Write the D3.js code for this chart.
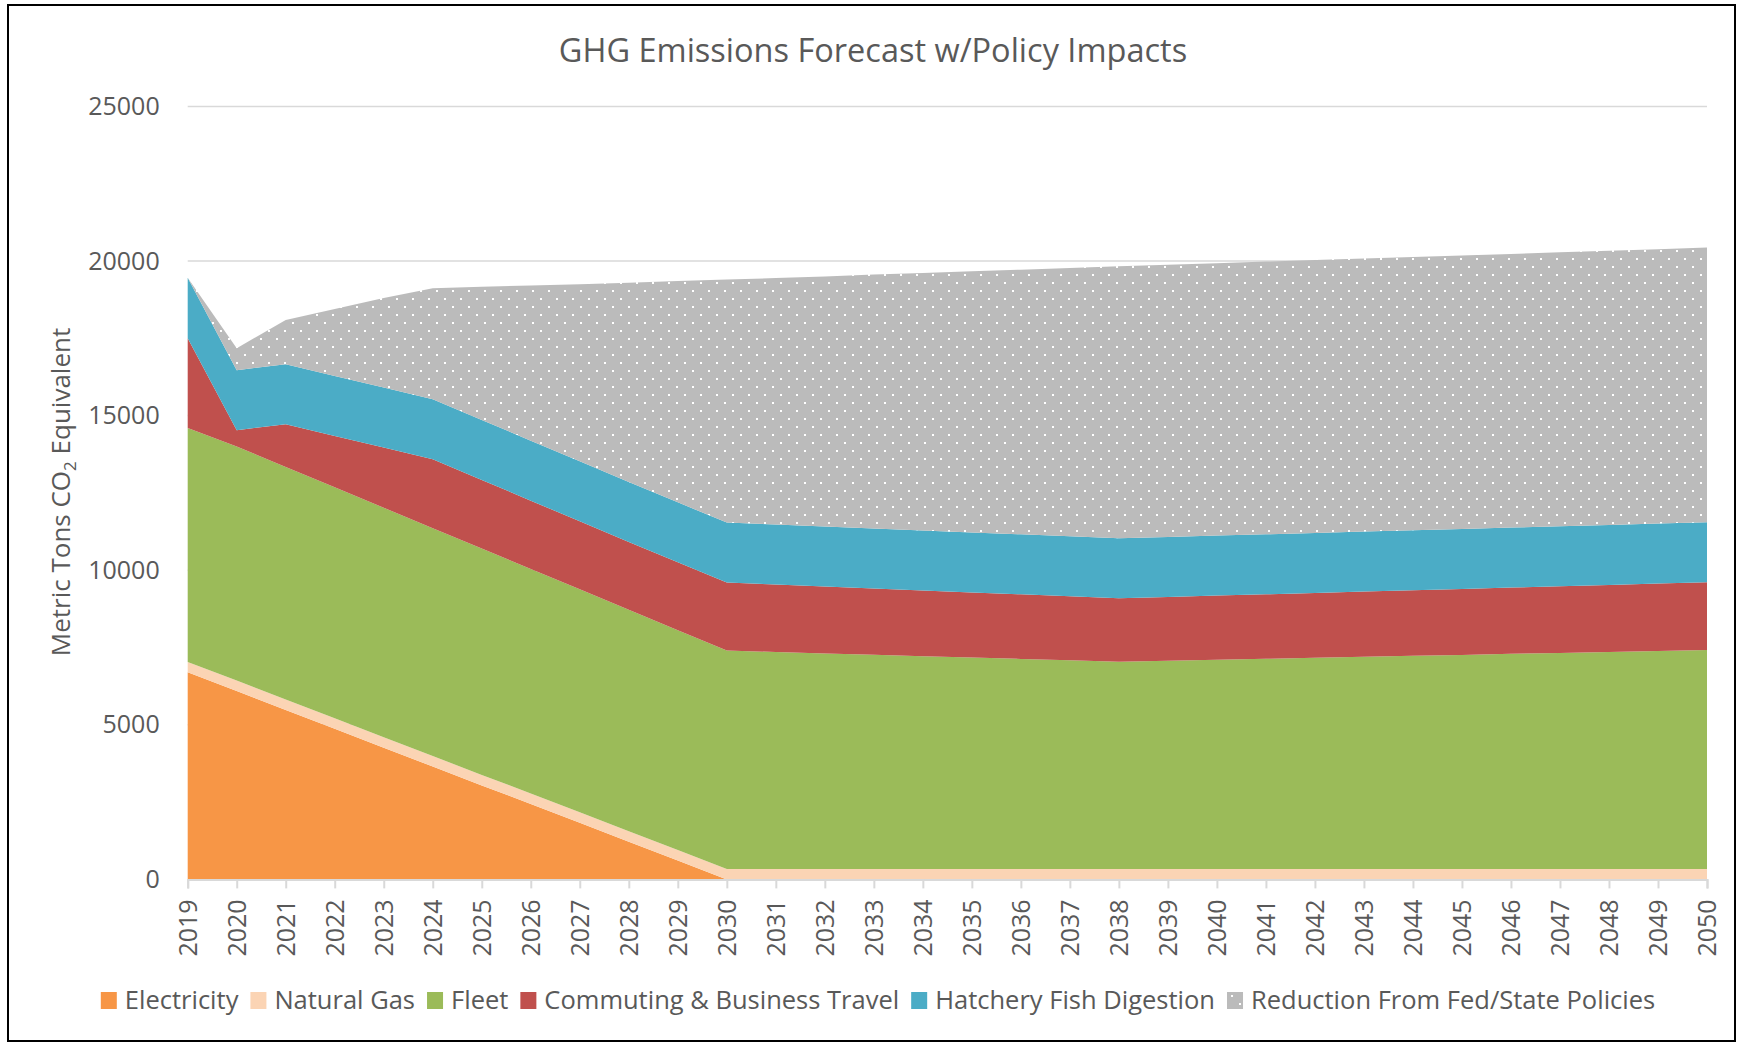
<!DOCTYPE html>
<html>
<head>
<meta charset="utf-8">
<script src="https://cdn.jsdelivr.net/npm/d3@7"></script>
<style>
  body { margin: 0; background: #fff; }
  text { font-family: "Open Sans", sans-serif; fill: #595959; }
</style>
</head>
<body>
<svg id="chart"></svg>
<script>
// data
const years = [2019,2020,2021,2022,2023,2024,2025,2026,2027,2028,2029,2030,2031,2032,2033,2034,2035,2036,2037,2038,2039,2040,2041,2042,2043,2044,2045,2046,2047,2048,2049,2050];
const electricity = [6700,6090,5480,4870,4260,3650,3040,2440,1830,1220,610,0,0,0,0,0,0,0,0,0,0,0,0,0,0,0,0,0,0,0,0,0];
const naturalGas = [330,340,340,340,340,340,340,340,340,340,340,340,340,340,340,340,340,340,340,340,340,340,340,340,340,340,340,340,340,340,340,340];
const fleet = [7570,7570,7520,7470,7420,7370,7320,7260,7210,7160,7110,7060,7015,6970,6925,6880,6835,6790,6745,6700,6730,6765,6795,6825,6860,6890,6920,6955,6985,7015,7050,7080];
const commuting = [2900,530,1380,1660,1950,2230,2220,2210,2200,2190,2195,2200,2180,2160,2145,2125,2105,2090,2070,2050,2060,2075,2085,2095,2110,2120,2130,2145,2155,2165,2180,2190];
const hatchery = [1960,1940,1940,1940,1940,1940,1940,1940,1940,1940,1940,1940,1940,1940,1940,1940,1940,1940,1940,1940,1940,1940,1940,1940,1940,1940,1940,1940,1940,1940,1940,1940];
const reduction = [0,710,1430,2170,2890,3590,4310,5020,5730,6450,7155,7860,7975,8090,8210,8325,8450,8560,8675,8800,8810,8810,8820,8830,8830,8840,8850,8850,8860,8870,8870,8890];
const yTicks = [0,5000,10000,15000,20000,25000];

const seriesNames = ["Electricity","Natural Gas","Fleet","Commuting & Business Travel","Hatchery Fish Digestion","Reduction From Fed/State Policies"];
const seriesValues = [electricity, naturalGas, fleet, commuting, hatchery, reduction];
const colors = ["#F79646","#FBD4B4","#9BBB59","#C0504D","#4BACC6","url(#dots)"];

const W = 1741, H = 1042;
const plot = { left: 187.7, right: 1707, top: 106.4, bottom: 879.4 };

const table = years.map((yr, i) => {
  const row = { year: yr };
  seriesNames.forEach((s, k) => row[s] = seriesValues[k][i]);
  return row;
});

const svg = d3.select("#chart").attr("width", W).attr("height", H);

// dotted fill for the policy reduction band
const defs = svg.append("defs");
const pat = defs.append("pattern")
  .attr("id", "dots")
  .attr("patternUnits", "userSpaceOnUse")
  .attr("width", 16).attr("height", 16);
pat.append("rect").attr("width", 16).attr("height", 16).attr("fill", "#BBBBBB");
pat.append("rect").attr("x", 4).attr("y", 2).attr("width", 2).attr("height", 2).attr("fill", "#fff");
pat.append("rect").attr("x", 12).attr("y", 10).attr("width", 2).attr("height", 2).attr("fill", "#fff");

svg.append("rect")
  .attr("width", W).attr("height", H).attr("fill", "#fff");
svg.append("rect")
  .attr("x", 8).attr("y", 5).attr("width", 1727).attr("height", 1036)
  .attr("fill", "none").attr("stroke", "#000").attr("stroke-width", 2);

const x = d3.scaleLinear().domain([years[0], years[years.length - 1]]).range([plot.left, plot.right]);
const y = d3.scaleLinear().domain([0, 25000]).range([plot.bottom, plot.top]);

// gridlines
svg.append("g")
  .selectAll("line")
  .data(yTicks.filter(d => d > 0))
  .join("line")
  .attr("x1", plot.left).attr("x2", plot.right)
  .attr("y1", d => y(d)).attr("y2", d => y(d))
  .attr("stroke", "#D9D9D9").attr("stroke-width", 1.5);

// stacked areas
const stack = d3.stack().keys(seriesNames);
const layers = stack(table);
const area = d3.area()
  .x(d => x(d.data.year))
  .y0(d => y(d[0]))
  .y1(d => y(d[1]));

svg.append("g")
  .selectAll("path")
  .data(layers)
  .join("path")
  .attr("d", area)
  .attr("fill", (d, i) => colors[i]);

// y axis labels
const yAxis = svg.append("g")
  .attr("transform", `translate(${plot.left},0)`)
  .call(d3.axisLeft(y).tickValues(yTicks).tickSize(0).tickPadding(28).tickFormat(d3.format("d")));
yAxis.select(".domain").remove();
yAxis.selectAll("text")
  .style("font-family", "'Open Sans', sans-serif")
  .style("font-size", "25px")
  .attr("fill", "#595959");

// x axis
const xAxis = svg.append("g")
  .attr("transform", `translate(0,${plot.bottom})`)
  .call(d3.axisBottom(x).tickValues(years).tickSize(9).tickFormat(d3.format("d")));
xAxis.select(".domain").attr("stroke", "#D9D9D9").attr("stroke-width", 2);
xAxis.selectAll(".tick line").attr("stroke", "#D9D9D9").attr("stroke-width", 2);
xAxis.selectAll("text")
  .style("font-family", "'Open Sans', sans-serif")
  .style("font-size", "25px")
  .attr("fill", "#595959")
  .attr("transform", "rotate(-90)")
  .attr("text-anchor", "end")
  .attr("dy", "0.35em")
  .attr("x", -20)
  .attr("y", 0);

// title
svg.append("text")
  .attr("x", 873).attr("y", 62)
  .attr("text-anchor", "middle")
  .style("font-size", "32.5px")
  .text("GHG Emissions Forecast w/Policy Impacts");

// y axis title
const yTitle = svg.append("text")
  .attr("transform", "translate(70,492) rotate(-90)")
  .attr("text-anchor", "middle")
  .style("font-size", "26px");
yTitle.append("tspan").text("Metric Tons CO");
yTitle.append("tspan").text("2").style("font-size", "17px").attr("dy", 6);
yTitle.append("tspan").text(" Equivalent").attr("dy", -6);

// legend
const legend = svg.append("g");
const items = legend.selectAll("g")
  .data(seriesNames)
  .join("g");
items.append("rect")
  .attr("y", -17).attr("width", 16).attr("height", 17)
  .attr("fill", (d, i) => colors[i]);
items.append("text")
  .attr("x", 24)
  .style("font-size", "25.5px")
  .text(d => d);
let offset = 0;
items.each(function () {
  const g = d3.select(this);
  g.attr("transform", `translate(${offset},0)`);
  offset += 24 + g.select("text").node().getComputedTextLength() + 12;
});
const legendWidth = offset - 12;
legend.attr("transform", `translate(${878 - legendWidth / 2},1009)`);
</script>
</body>
</html>
